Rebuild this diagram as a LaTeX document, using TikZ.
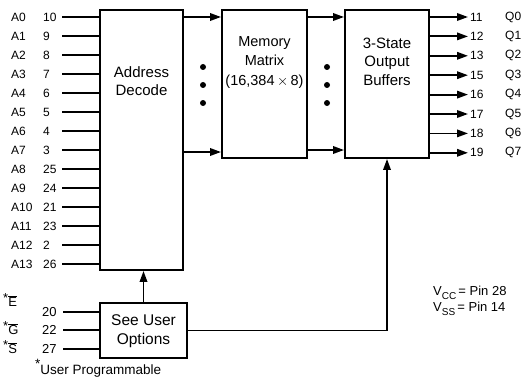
\documentclass[tikz,border=0pt]{standalone}
\usepackage{fontspec}
\setmainfont{Liberation Sans}
\usetikzlibrary{arrows.meta}
\begin{document}
\begin{tikzpicture}[x=1pt,y=-1pt,
  box/.style={draw,line width=1.9pt,inner sep=0pt},
  wire/.style={line width=1.8pt},
  arr/.style={wire,-{Triangle[length=11pt,width=7.5pt]}},
  pin/.style={font=\fontsize{12}{12}\selectfont,inner sep=0pt},
  btext/.style={font=\fontsize{15}{18.5}\selectfont,align=center,inner sep=0pt},
  dotc/.style={circle,fill,inner sep=0pt,minimum size=6pt}]
\useasboundingbox (0,0) rectangle (526,377);
% boxes
\node[box,minimum width=83pt,minimum height=260pt] (adec) at (141.5,140) {};
\node[box,minimum width=85pt,minimum height=148pt] (mem) at (264.5,84) {};
\node[box,minimum width=84pt,minimum height=148pt] (buf) at (387,84) {};
\node[box,minimum width=87pt,minimum height=55pt] (opt) at (143.5,330.5) {};
% box texts
\node[btext] (adect) at (141.5,81) {Address\\Decode};
\node[btext,font=\fontsize{14.5}{19.5}\selectfont] (memt) at (264.5,62.5) {Memory\\Matrix\\(16,384\,$\times$\,8)};
\node[btext] (buft) at (387,61.5) {3-State\\Output\\Buffers};
\node[btext,font=\fontsize{15.5}{18.5}\selectfont] (optt) at (143.5,331) {See User\\Options};
% inputs
\foreach \n/\p [count=\i from 0] in {A0/10,A1/9,A2/8,A3/7,A4/6,A5/5,A6/4,A7/3,A8/25,A9/24,A10/21,A11/23,A12/2,A13/26} {
  \pgfmathsetmacro\yy{17+19*\i}
  \node[pin,anchor=west] (la\i) at (11,\yy) {\n};
  \node[pin,anchor=west] (pa\i) at (43,\yy) {\p};
  \coordinate (ia\i) at (62,\yy);
  \draw[wire] (ia\i) -- (ia\i -| adec.west);
}
% outputs
\foreach \n/\p [count=\i from 0] in {Q0/11,Q1/12,Q2/13,Q3/15,Q4/16,Q5/17,Q6/18,Q7/19} {
  \pgfmathsetmacro\yy{17+19.4*\i}
  \coordinate (qo\i) at (468,\yy);
  \draw[arr] (qo\i -| buf.east) -- (qo\i);
  \node[pin,anchor=west] (qp\i) at (470,\yy) {\p};
  \node[pin,anchor=west] (ql\i) at (505,\yy) {\n};
}
% internal arrows
\coordinate (t1) at (200,17);
\coordinate (t2) at (200,152);
\coordinate (t3) at (320,17);
\coordinate (t4) at (320,150);
\draw[arr] (t1 -| adec.east) -- (t1 -| mem.west);
\draw[arr] (t2 -| adec.east) -- (t2 -| mem.west);
\draw[arr] (t3 -| mem.east) -- (t3 -| buf.west);
\draw[arr] (t4 -| mem.east) -- (t4 -| buf.west);
% dots
\foreach \yy [count=\k] in {67,85,103} {
  \node[dotc] (da\k) at (203,\yy) {};
  \node[dotc] (db\k) at (327,\yy) {};
}
% option connections
\draw[arr] (opt.north) -- (opt.north |- adec.south);
\draw[arr] (opt.east) -| (buf.south);
% control inputs
\foreach \s/\yy [count=\k] in {E/300,G/328,S/347} {
  \node[pin,anchor=west,font=\fontsize{13}{13}\selectfont] (cl\k) at (3,\yy) {\raisebox{0.7ex}{*}$\overline{\mbox{\s}}$};
}
\foreach \p/\yy [count=\k] in {20/312,22/330,27/349} {
  \node[pin,anchor=west,font=\fontsize{13}{13}\selectfont] (cp\k) at (42,\yy) {\p};
  \coordinate (ci\k) at (63,\yy);
  \draw[wire] (ci\k) -- (ci\k -| opt.west);
}
\node[pin,anchor=west,font=\fontsize{13.5}{13.5}\selectfont] (up) at (35,368) {\raisebox{0.8ex}{*}User Programmable};
% supply
\node[pin,anchor=west,font=\fontsize{13}{13}\selectfont] (vcc) at (433,293) {V\raisebox{-0.5ex}{\fontsize{10}{10}\selectfont CC}\,= Pin 28};
\node[pin,anchor=west,font=\fontsize{13}{13}\selectfont] (vss) at (433,309) {V\raisebox{-0.5ex}{\fontsize{10}{10}\selectfont SS}\,= Pin 14};
\end{tikzpicture}
\end{document}
